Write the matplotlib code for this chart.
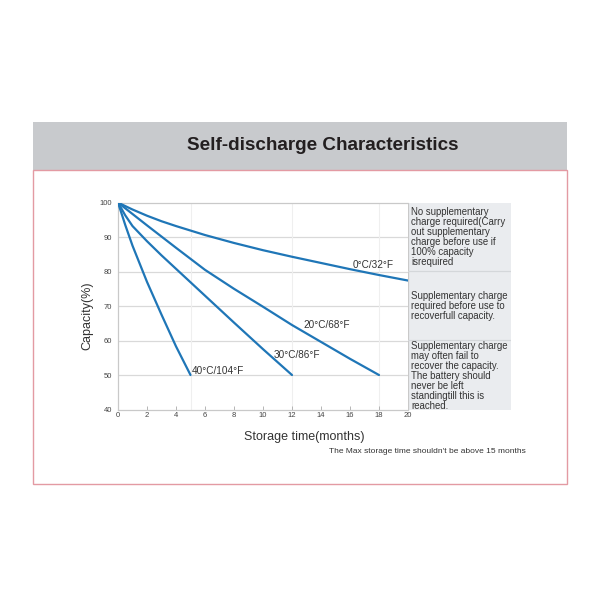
import matplotlib
matplotlib.use('Agg')
import matplotlib.pyplot as plt
from matplotlib.patches import Rectangle

plt.rcParams['font.family'] = ['Liberation Sans', 'DejaVu Sans']

# curves: storage months -> capacity %
months_0c = [0, 1, 2, 3, 4, 6, 8, 10, 12, 14, 16, 18, 20]
cap_0c = [100, 98.0, 96.2, 94.6, 93.2, 90.6, 88.3, 86.2, 84.3, 82.5, 80.7, 79.0, 77.4]

months_20c = [0, 2, 4, 6, 8, 10, 12, 14, 16, 18]
cap_20c = [100, 93.4, 86.9, 80.5, 75.0, 69.8, 64.5, 59.6, 54.7, 50]

months_30c = [0, 0.5, 1, 2, 3, 4, 6, 8, 10, 12]
cap_30c = [100, 96.3, 93.2, 88.8, 84.7, 80.8, 73.0, 65.2, 57.5, 50]

months_40c = [0, 0.5, 1, 2, 3, 4, 5]
cap_40c = [100, 93.5, 87.5, 77.0, 67.5, 58.3, 50]

curve_labels = ['0°C/32°F', '20°C/68°F', '30°C/86°F', '40°C/104°F']
label_x = [16.2, 12.8, 10.75, 5.1]
label_y = [82.0, 64.6, 55.8, 51.1]

x_ticks = list(range(0, 21, 2))
y_ticks = [40, 50, 60, 70, 80, 90, 100]

notes = [
    'No supplementary\ncharge required(Carry\nout supplementary\ncharge before use if\n100% capacity\nisrequired',
    'Supplementary charge\nrequired before use to\nrecoverfull capacity.',
    'Supplementary charge\nmay often fail to\nrecover the capacity.\nThe battery should\nnever be left\nstandingtill this is\nreached.',
]
note_y = [0.978, 0.573, 0.332]
divider_y = [0.669, 0.336]

line_color = '#1f76b7'
text_color = '#333333'

fig = plt.figure(figsize=(6, 6), dpi=100)

# header band + pink frame (behind everything)
bg = fig.add_axes([0, 0, 1, 1], zorder=-5)
bg.set_xlim(0, 1)
bg.set_ylim(0, 1)
bg.axis('off')
bg.add_patch(Rectangle((0.055, 0.7167), 0.89, 0.08, facecolor='#c8cacd', edgecolor='none'))
bg.add_patch(Rectangle((0.055, 0.1933), 0.89, 0.5234, facecolor='white',
                       edgecolor='#e39aa3', linewidth=1.0))
bg.text(0.538, 0.7495, 'Self-discharge Characteristics', ha='center', va='baseline',
        fontsize=13.6, fontweight='bold', color='#231f20')
bg.text(0.5075, 0.2717, 'Storage time(months)', ha='center', va='center',
        fontsize=9, color=text_color)
bg.text(0.145, 0.474, 'Capacity(%)', ha='center', va='center', rotation=90,
        fontsize=9, color=text_color)
bg.text(0.877, 0.2467, "The Max storage time shouldn't be above 15 months",
        ha='right', va='center', fontsize=6.0, color=text_color)

# main chart
ax = fig.add_axes([0.1967, 0.3175, 0.4833, 0.3448])
for m, c in [(months_0c, cap_0c), (months_20c, cap_20c), (months_30c, cap_30c), (months_40c, cap_40c)]:
    ax.plot(m, c, color=line_color, linewidth=1.6, solid_capstyle='round',
            solid_joinstyle='round', zorder=3)
for t, x, y in zip(curve_labels, label_x, label_y):
    ax.text(x, y, t, fontsize=7.2, color=text_color, va='center', ha='left', zorder=4)

ax.set_xlim(0, 20)
ax.set_ylim(40, 100)
ax.set_xticks(x_ticks)
ax.set_yticks(y_ticks)
ax.tick_params(axis='x', direction='in', length=3, width=0.6, color='#aaaaaa',
               labelsize=5.5, labelcolor='#444444', pad=2)
ax.tick_params(axis='y', length=0, labelsize=5.5, labelcolor='#444444', pad=4)
for v in y_ticks[1:-1]:
    ax.axhline(v, color='#d9d9d9', linewidth=0.9, zorder=1)
for v in [5, 12, 18]:
    ax.axvline(v, color='#efefef', linewidth=0.8, zorder=1)
for s in ['left', 'top', 'bottom']:
    ax.spines[s].set_color('#c9c9c9')
    ax.spines[s].set_linewidth(0.9)
ax.spines['right'].set_visible(False)

# notes panel on the right
pa = fig.add_axes([0.68, 0.3175, 0.1717, 0.3448])
pa.set_facecolor('#eaecef')
pa.set_xlim(0, 1)
pa.set_ylim(0, 1)
pa.set_xticks([])
pa.set_yticks([])
for s in pa.spines.values():
    s.set_visible(False)
pa.axvline(0, color='#c9c9c9', linewidth=0.9)
for d in divider_y:
    pa.axhline(d, color='#d4d7da', linewidth=0.9)
for t, y in zip(notes, note_y):
    pa.text(0.03, y, t, fontsize=6.9, color=text_color, va='top', ha='left', linespacing=1.0)

fig.savefig('out.png', dpi=100)
